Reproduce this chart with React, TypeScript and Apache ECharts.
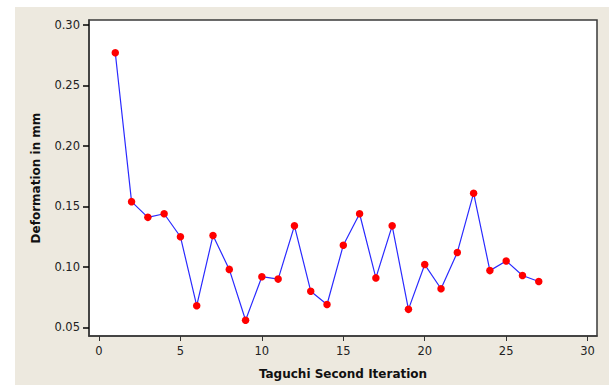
import React, { useEffect, useRef } from "react";
import * as echarts from "echarts";

const iterations = [1,2,3,4,5,6,7,8,9,10,11,12,13,14,15,16,17,18,19,20,21,22,23,24,25,26,27];
const deformation = [0.277,0.154,0.141,0.144,0.125,0.068,0.126,0.098,0.056,0.092,0.090,0.134,0.080,0.069,0.118,0.144,0.091,0.134,0.065,0.102,0.082,0.112,0.161,0.097,0.105,0.093,0.088];
const xTicks = [0,5,10,15,20,25,30];
const yTicks = [0.05,0.10,0.15,0.20,0.25,0.30];

export default function App() {
  const ref = useRef<HTMLDivElement>(null);
  useEffect(() => {
    if (!ref.current) return;
    const chart = echarts.init(ref.current, null, { renderer: "svg" });
    const font = "'DejaVu Sans', Tahoma, sans-serif";
    const lineStyle = { color: "#3a3a3a", width: 1.5 };
    chart.setOption({
      animation: false,
      backgroundColor: "#ffffff",
      graphic: [
        { type: "rect", z: -10, shape: { x: 15, y: 7, width: 594, height: 378 }, style: { fill: "#EDE9DF" }, silent: true },
      ],
      grid: {
        left: 89, top: 20, width: 508, height: 319,
        show: true, backgroundColor: "#ffffff", borderColor: "#3a3a3a", borderWidth: 1.5,
      },
      xAxis: {
        type: "value",
        min: -0.613, max: 30.576,
        splitLine: { show: false },
        axisLine: { show: true, onZero: false, lineStyle },
        axisTick: { show: true, length: 5, lineStyle: { color: "#333", width: 1 }, customValues: xTicks },
        axisLabel: { customValues: xTicks, color: "#222", fontFamily: font, fontSize: 11.5, margin: 9 },
        name: "Taguchi Second Iteration",
        nameLocation: "middle",
        nameGap: 32,
        nameTextStyle: { fontFamily: font, fontWeight: "bold", fontSize: 12, color: "#111" },
      },
      yAxis: {
        type: "value",
        position: "left",
        min: 0.04297, max: 0.3041,
        splitLine: { show: false },
        axisLine: { show: true, onZero: false, lineStyle },
        axisTick: { show: true, inside: false, length: 6, lineStyle: { color: "#000", width: 1.5 }, customValues: yTicks },
        axisLabel: {
          customValues: yTicks,
          color: "#222", fontFamily: font, fontSize: 11.5, margin: 9,
          formatter: (v: number) => v.toFixed(2),
        },
        name: "Deformation in mm",
        nameLocation: "middle",
        nameGap: 47,
        nameTextStyle: { fontFamily: font, fontWeight: "bold", fontSize: 12, color: "#111" },
      },
      series: [
        {
          type: "line",
          data: iterations.map((x, i) => [x, deformation[i]]),
          symbol: "circle",
          symbolSize: 7.5,
          itemStyle: { color: "#ff0000" },
          lineStyle: { color: "#2a2aff", width: 1.2 },
        },
      ],
    });
    return () => chart.dispose();
  }, []);
  return (
    <div style={{ position: "fixed", left: 0, top: 0, width: 609, height: 385, background: "#fff" }}>
      <div ref={ref} style={{ width: 609, height: 385 }} />
    </div>
  );
}
